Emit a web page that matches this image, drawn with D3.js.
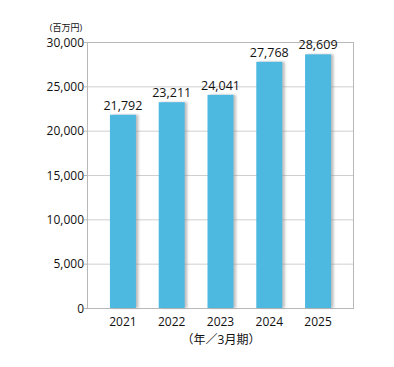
<!DOCTYPE html>
<html><head><meta charset="utf-8">
<script src="https://cdn.jsdelivr.net/npm/d3@7"></script>
<style>body{margin:0;background:#fff;}svg{display:block;}</style>
</head><body>
<script>
const categories = ["2021","2022","2023","2024","2025"];
const values = [21792, 23211, 24041, 27768, 28609];
const yTicks = [0,5000,10000,15000,20000,25000,30000];
const unitLabel = "(百万円)";
const xTitle = "（年／3月期）";

const W=394,H=367;
const L=87,R=354,T=42,B=308;
const font='"Open Sans", "Noto Sans CJK JP", sans-serif';
const svg=d3.select("body").append("svg").attr("width",W).attr("height",H);
const defs=svg.append("defs");
const f=defs.append("filter").attr("id","sh").attr("x","-20%").attr("y","-5%").attr("width","150%").attr("height","110%");
f.append("feDropShadow").attr("dx",2.5).attr("dy",0).attr("stdDeviation",1.2).attr("flood-color","#888").attr("flood-opacity",0.55);

const x=d3.scaleBand().domain(categories).range([L,R]).paddingInner(0.467).paddingOuter(0.47);
const y=d3.scaleLinear().domain([0,30000]).range([B,T]);

// grid
svg.append("g").selectAll("line").data(yTicks).join("line")
  .attr("x1",L).attr("x2",R).attr("y1",d=>y(d)+0.5).attr("y2",d=>y(d)+0.5)
  .attr("stroke","#cfcfcf").attr("stroke-width",1);
// frame
svg.append("rect").attr("x",L+0.5).attr("y",T+0.5).attr("width",R-L-1).attr("height",B-T)
  .attr("fill","none").attr("stroke","#b8b8b8");
// left ticks
svg.append("g").selectAll("line").data(yTicks).join("line")
  .attr("x1",L-3).attr("x2",L).attr("y1",d=>y(d)+0.5).attr("y2",d=>y(d)+0.5).attr("stroke","#b8b8b8");

// bars
svg.append("g").selectAll("rect").data(values).join("rect")
  .attr("x",(d,i)=>x(categories[i])).attr("width",x.bandwidth())
  .attr("y",d=>y(d)).attr("height",d=>B-y(d))
  .attr("fill","#4eb8e0").attr("filter","url(#sh)");

// value labels
svg.append("g").selectAll("text").data(values).join("text")
  .attr("x",(d,i)=>x(categories[i])+x.bandwidth()/2).attr("y",d=>y(d)-5)
  .attr("text-anchor","middle").attr("font-family",font).attr("font-size",12.5).attr("fill","#111")
  .text(d=>d3.format(",")(d));

// y labels
svg.append("g").selectAll("text").data(yTicks).join("text")
  .attr("x",L-3).attr("y",d=>y(d)+4.5).attr("text-anchor","end")
  .attr("font-family",font).attr("font-size",12).attr("fill","#111")
  .text(d=>d3.format(",")(d));

// x labels
svg.append("g").selectAll("text").data(categories).join("text")
  .attr("x",d=>x(d)+x.bandwidth()/2).attr("y",B+18).attr("text-anchor","middle")
  .attr("font-family",font).attr("font-size",12).attr("fill","#111").text(d=>d);

svg.append("text").attr("x",66).attr("y",31).attr("text-anchor","middle")
  .attr("font-family",font).attr("font-size",9).attr("fill","#111").text(unitLabel);
svg.append("text").attr("x",221).attr("y",344).attr("text-anchor","middle")
  .attr("font-family",font).attr("font-size",12).attr("fill","#111").text(xTitle);
</script>
</body></html>
